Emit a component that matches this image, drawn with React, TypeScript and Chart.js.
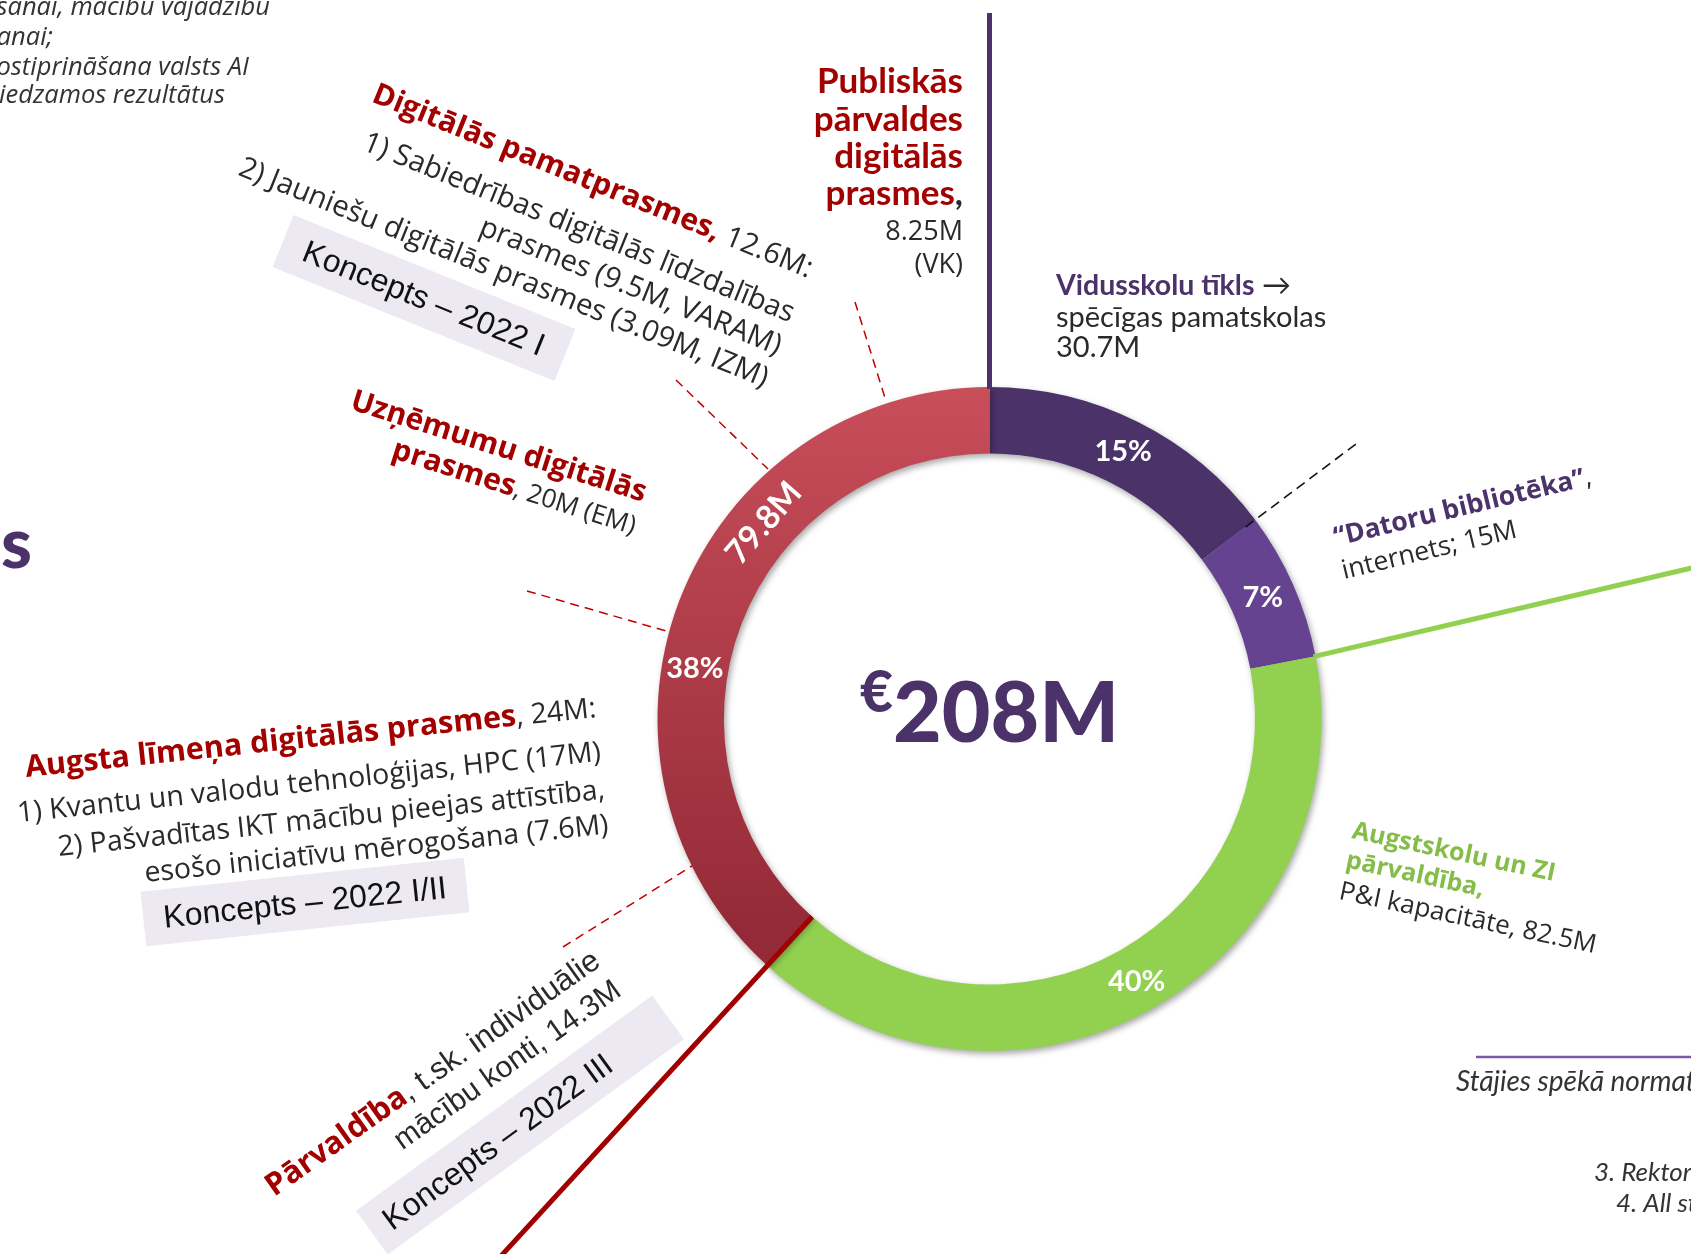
import React, { useEffect, useRef } from 'react';
import { Chart, registerables } from 'chart.js';

Chart.register(...registerables);

// ---- data ----
const categories = [
  'Vidusskolu tīkls',
  '“Datoru bibliotēka”',
  'Augstskolu un ZI pārvaldība',
  'Digitālās prasmes',
];
const valuesM = [30.7, 15, 82.5, 79.8];
const currency = '€';

// ---- styles ----
const PURPLE = '#4B3269';
const PURPLE2 = '#664391';
const GREEN = '#92D050';
const GREEN_TXT = '#84BD48';
const RED = '#A30000';
const DARK = '#2a2a2a';

const OS = (s: number) => `400 ${s}px "Open Sans"`;
const OSB = (s: number) => `700 ${s}px "Open Sans"`;
const OSI = (s: number) => `italic 400 ${s}px "Open Sans"`;
const L = (s: number) => `400 ${s}px Lato, "DejaVu Sans"`;
const LB = (s: number) => `700 ${s}px Lato`;
const LI = (s: number) => `italic 400 ${s}px Lato`;
const AR = (s: number) => `400 ${s}px "Liberation Sans", Arial`;

type Run = [string, string, string];
type Line = { dy: number; runs: Run[] };

function drawBlock(
  ctx: CanvasRenderingContext2D,
  x: number,
  y: number,
  deg: number,
  align: 'left' | 'right' | 'center',
  lines: Line[]
) {
  ctx.save();
  ctx.translate(x, y);
  ctx.rotate((deg * Math.PI) / 180);
  ctx.textBaseline = 'alphabetic';
  ctx.textAlign = 'left';
  for (const ln of lines) {
    let w = 0;
    for (const r of ln.runs) {
      ctx.font = r[1];
      w += ctx.measureText(r[0]).width;
    }
    let sx = align === 'left' ? 0 : align === 'right' ? -w : -w / 2;
    for (const r of ln.runs) {
      ctx.font = r[1];
      ctx.fillStyle = r[2];
      ctx.fillText(r[0], sx, ln.dy);
      sx += ctx.measureText(r[0]).width;
    }
  }
  ctx.restore();
}

function drawBox(
  ctx: CanvasRenderingContext2D,
  cx: number,
  cy: number,
  deg: number,
  w: number,
  h: number,
  text: string,
  size: number,
  dx = 0
) {
  ctx.save();
  ctx.translate(cx, cy);
  ctx.rotate((deg * Math.PI) / 180);
  ctx.fillStyle = '#ECE9F2';
  ctx.fillRect(-w / 2, -h / 2, w, h);
  ctx.font = AR(size);
  ctx.fillStyle = '#111';
  ctx.textAlign = 'center';
  ctx.textBaseline = 'middle';
  ctx.fillText(text, dx, 2);
  ctx.restore();
}

function line(
  ctx: CanvasRenderingContext2D,
  x1: number,
  y1: number,
  x2: number,
  y2: number,
  color: string,
  width: number,
  dash: number[] = []
) {
  ctx.save();
  ctx.strokeStyle = color;
  ctx.lineWidth = width;
  ctx.setLineDash(dash);
  ctx.beginPath();
  ctx.moveTo(x1, y1);
  ctx.lineTo(x2, y2);
  ctx.stroke();
  ctx.restore();
}

const shadowPlugin = {
  id: 'ringShadow',
  beforeDatasetsDraw(chart: any) {
    const ctx = chart.ctx;
    ctx.save();
    ctx.shadowColor = 'rgba(0,0,0,0.35)';
    ctx.shadowBlur = 6;
    ctx.shadowOffsetX = 2;
    ctx.shadowOffsetY = 3;
  },
  afterDatasetsDraw(chart: any) {
    chart.ctx.restore();
  },
};

const annotationPlugin = {
  id: 'annotations',
  afterDraw(chart: any) {
    const ctx: CanvasRenderingContext2D = chart.ctx;
    const arcs = chart.getDatasetMeta(0).data as any[];
    const total = valuesM.reduce((a, b) => a + b, 0);
    const cx = arcs[0].x;
    const cy = arcs[0].y;
    const R = arcs[0].outerRadius;
    const r = arcs[0].innerRadius;
    const pt = (ang: number, rad: number) => ({ x: cx + Math.cos(ang) * rad, y: cy + Math.sin(ang) * rad });

    // leader lines attached to ring
    const top = pt(arcs[0].startAngle, R);
    line(ctx, top.x, top.y + 2, top.x, 13, PURPLE, 5);
    const g0 = pt(arcs[1].endAngle, R - 2);
    line(ctx, g0.x, g0.y, 1700, 566, GREEN, 5);
    const d0 = pt(arcs[2].endAngle, r);
    line(ctx, d0.x, d0.y, 490, 1268, '#A00000', 5);
    const b0 = pt(arcs[0].endAngle, R - 12);
    line(ctx, b0.x, b0.y, 1356, 444, '#111', 1.6, [10, 6]);

    // red dashed leader lines
    const redDash = [9, 6];
    line(ctx, 855, 302, 886, 401, '#C00000', 1.5, redDash);
    line(ctx, 676, 380, 768, 469, '#C00000', 1.5, redDash);
    line(ctx, 527, 591, 666, 631, '#C00000', 1.5, redDash);
    line(ctx, 563, 947, 692, 866, '#C00000', 1.5, redDash);

    // bottom-right rule
    line(ctx, 1476, 1057, 1700, 1057, '#7A5AA8', 2.5);

    // ring labels
    ctx.save();
    ctx.fillStyle = '#fff';
    ctx.textAlign = 'center';
    ctx.textBaseline = 'middle';
    ctx.font = LB(29);
    const at = (i: number, f: number) => {
      const a = arcs[i];
      const ang = a.startAngle + (a.endAngle - a.startAngle) * f;
      return { ...pt(ang, (a.innerRadius + a.outerRadius) / 2), ang };
    };
    const pct = (i: number) => Math.round((valuesM[i] / total) * 100) + '%';
    const p0 = at(0, 0.5);
    ctx.fillText(pct(0), p0.x, p0.y);
    const p1 = at(1, 0.5);
    ctx.fillText(pct(1), p1.x, p1.y);
    const p2 = at(2, 0.5);
    ctx.fillText(pct(2), p2.x, p2.y + 3);
    const p3 = at(3, 0.418);
    ctx.fillText(pct(3), p3.x, p3.y);
    const p4 = at(3, 0.645);
    ctx.save();
    ctx.translate(p4.x, p4.y);
    ctx.rotate(p4.ang + Math.PI / 2);
    ctx.font = LB(33);
    ctx.fillText(valuesM[3] + 'M', 0, 0);
    ctx.restore();
    ctx.restore();

    // centre total
    ctx.save();
    const big = Math.round(total) + 'M';
    const bigFont = `900 84px Lato`;
    const eurFont = `900 57px Lato`;
    ctx.font = bigFont;
    const wBig = ctx.measureText(big).width;
    ctx.font = eurFont;
    const wEur = ctx.measureText(currency).width;
    const sx = cx - (wBig + wEur) / 2;
    ctx.fillStyle = PURPLE;
    ctx.textAlign = 'left';
    ctx.textBaseline = 'alphabetic';
    ctx.fillText(currency, sx, 712);
    ctx.font = bigFont;
    ctx.fillText(big, sx + wEur, 742);
    ctx.restore();

    // boxes
    drawBox(ctx, 424, 298, 22, 304, 56, 'Koncepts – 2022 I', 32);
    drawBox(ctx, 305, 902, -6, 325, 55, 'Koncepts – 2022 I/II', 32);
    drawBox(ctx, 520, 1125, -36, 366, 54, 'Koncepts – 2022 III', 32, -28);

    // top-left italic text (cut off)
    drawBlock(ctx, 270, 0, 0, 'right', [{ dy: 15, runs: [['šanai, mācību vajadzību', OSI(25.5), '#333']] }]);
    drawBlock(ctx, 53, 0, 0, 'right', [{ dy: 45, runs: [['anai;', OSI(25.5), '#333']] }]);
    drawBlock(ctx, 249, 0, 0, 'right', [{ dy: 75, runs: [['ostiprināšana valsts AI', OSI(25.5), '#333']] }]);
    drawBlock(ctx, 225, 0, 0, 'right', [{ dy: 103, runs: [['iedzamos rezultātus', OSI(25.5), '#333']] }]);

    // big cut-off title letter
    drawBlock(ctx, 32, 568, 0, 'right', [{ dy: 0, runs: [['s', `900 70px Lato`, PURPLE]] }]);

    // Digitālās pamatprasmes
    drawBlock(ctx, 808, 278, 22, 'right', [
      { dy: 0, runs: [['Digitālās pamatprasmes,', OSB(30), RED], [' 12.6M:', OS(29.2), DARK]] },
      { dy: 48, runs: [['1) Sabiedrības digitālās līdzdalības', OS(29.2), DARK]] },
      { dy: 83, runs: [['prasmes (9.5M, VARAM)', OS(29.2), DARK]] },
      { dy: 118, runs: [['2) Jauniešu digitālās prasmes (3.09M, IZM)', OS(29.2), DARK]] },
    ]);

    // Publiskās pārvaldes
    drawBlock(ctx, 963, 0, 0, 'right', [
      { dy: 93, runs: [['Publiskās', LB(35), RED]] },
      { dy: 131, runs: [['pārvaldes', LB(35), RED]] },
      { dy: 168, runs: [['digitālās', LB(35), RED]] },
      { dy: 205, runs: [['prasmes', LB(35), RED], [',', LB(35), DARK]] },
      { dy: 240, runs: [['8.25M', OS(27), DARK]] },
      { dy: 273, runs: [['(VK)', OS(27), DARK]] },
    ]);

    // Vidusskolu tīkls
    drawBlock(ctx, 1056, 0, 0, 'left', [
      { dy: 295, runs: [['Vidusskolu tīkls', LB(28.5), PURPLE], [' →', L(29), DARK]] },
      { dy: 327, runs: [['spēcīgas pamatskolas', L(29), DARK]] },
      { dy: 357, runs: [['30.7M', L(29), DARK]] },
    ]);

    // Datoru bibliotēka
    drawBlock(ctx, 1336, 546, -13.5, 'left', [
      { dy: 0, runs: [['“Datoru bibliotēka”', OSB(26.5), PURPLE], [',', OS(26.5), DARK]] },
      { dy: 34, runs: [['internets; 15M', OS(26.5), DARK]] },
    ]);

    // Augstskolu un ZI
    drawBlock(ctx, 1351, 838, 12, 'left', [
      { dy: 0, runs: [['Augstskolu un ZI', OSB(25), GREEN_TXT]] },
      { dy: 30, runs: [['pārvaldība,', OSB(25), GREEN_TXT]] },
      { dy: 62, runs: [['P&I kapacitāte, 82.5M', OS(26), DARK]] },
    ]);

    // Uzņēmumu digitālās prasmes
    drawBlock(ctx, 643, 502, 17.6, 'right', [
      { dy: 0, runs: [['Uzņēmumu digitālās', OSB(30), RED]] },
      { dy: 34, runs: [['prasmes', OSB(30), RED], [', 20M (EM)', OS(26), DARK]] },
    ]);

    // Augsta līmeņa digitālās prasmes
    drawBlock(ctx, 597, 717, -6, 'right', [
      { dy: 0, runs: [['Augsta līmeņa digitālās prasmes', OSB(30.5), RED], [', 24M:', OS(28.5), DARK]] },
      { dy: 44, runs: [['1) Kvantu un valodu tehnoloģijas, HPC (17M)', OS(28.5), DARK]] },
      { dy: 82, runs: [['2) Pašvadītas IKT mācību pieejas attīstība,', OS(28.5), DARK]] },
      { dy: 117, runs: [['esošo iniciatīvu mērogošana (7.6M)', OS(28.5), DARK]] },
    ]);

    // Pārvaldība
    drawBlock(ctx, 602, 965, -35.3, 'right', [
      { dy: 0, runs: [['Pārvaldība', OSB(31), RED], [', t.sk. individuālie', AR(31), DARK]] },
      { dy: 36, runs: [['mācību konti, 14.3M', AR(30), DARK]] },
    ]);

    // bottom-right italic text (cut off)
    drawBlock(ctx, 1456, 1091, 0, 'left', [{ dy: 0, runs: [['Stājies spēkā normatīvais', LI(28), '#333']] }]);
    drawBlock(ctx, 1594, 1181, 0, 'left', [{ dy: 0, runs: [['3. Rektoru', LI(26), '#333']] }]);
    drawBlock(ctx, 1616, 1212, 0, 'left', [{ dy: 0, runs: [['4. All st', LI(26), '#333']] }]);
  },
};

export default function App() {
  const ref = useRef<HTMLCanvasElement>(null);
  useEffect(() => {
    const canvas = ref.current!;
    const chart = new Chart(canvas, {
      type: 'doughnut',
      data: {
        labels: categories,
        datasets: [
          {
            data: valuesM,
            backgroundColor: (c: any) => {
              const base = [PURPLE, PURPLE2, GREEN];
              if (c.dataIndex < 3) return base[c.dataIndex];
              const a = c.chart.chartArea;
              if (!a) return '#B0404C';
              const g = c.chart.ctx.createLinearGradient(0, a.top, 0, a.top + (a.bottom - a.top) * 0.82);
              g.addColorStop(0, '#C84E5A');
              g.addColorStop(1, '#942A37');
              return g;
            },
            borderWidth: 0,
            hoverOffset: 0,
            radius: 332,
            cutout: 266,
          } as any,
        ],
      },
      options: {
        responsive: false,
        animation: false,
        events: [],
        layout: { padding: { left: 657, right: 369, top: 386, bottom: 202 } },
        plugins: { legend: { display: false }, tooltip: { enabled: false } },
      },
      plugins: [shadowPlugin, annotationPlugin],
    } as any);
    return () => chart.destroy();
  }, []);
  return (
    <div style={{ position: 'absolute', left: 0, top: 0, width: 1691, height: 1254, background: '#fff', overflow: 'hidden' }}>
      <canvas ref={ref} width={1691} height={1254} style={{ display: 'block', width: 1691, height: 1254 }} />
    </div>
  );
}
